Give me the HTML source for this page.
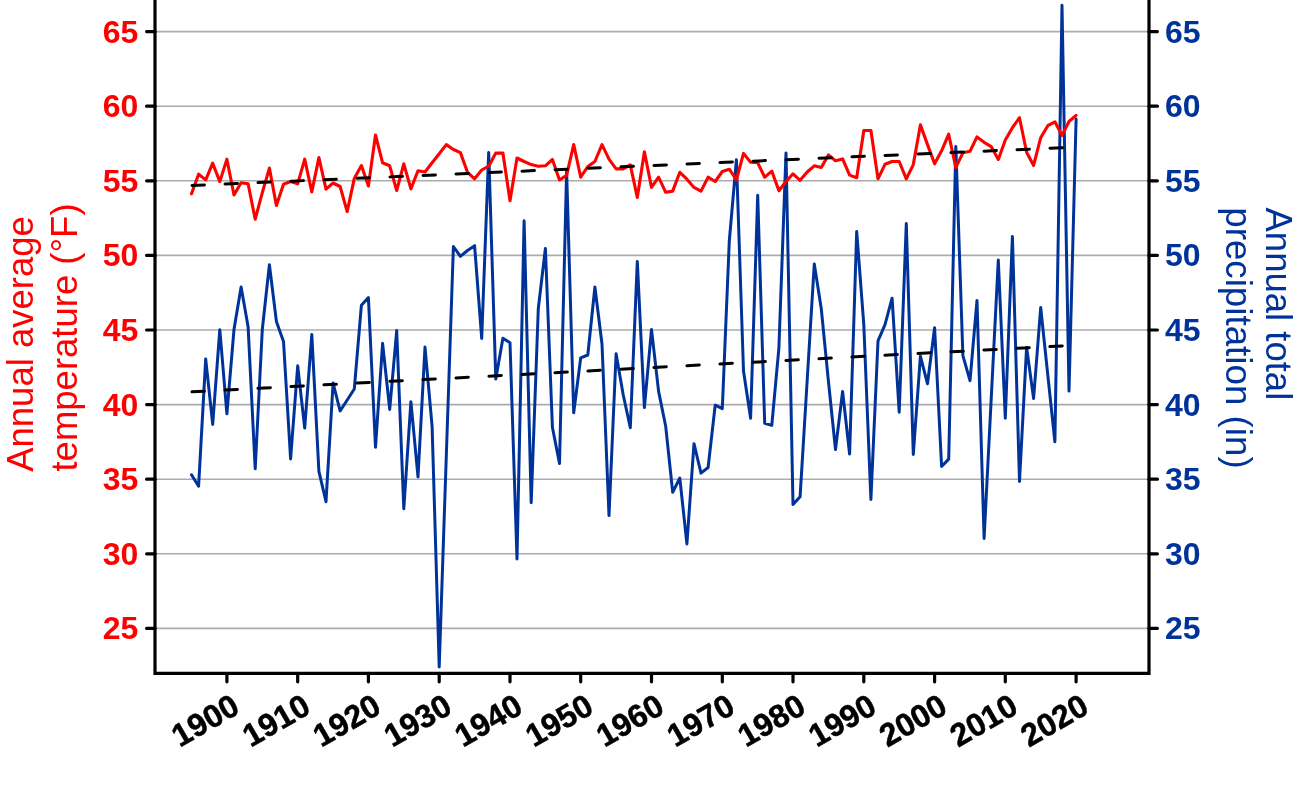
<!DOCTYPE html><html><head><meta charset="utf-8"><title>chart</title><style>html,body{margin:0;padding:0;background:#fff}svg{display:block}text{font-family:"Liberation Sans",sans-serif}</style></head><body>
<svg width="1300" height="787" viewBox="0 0 1300 787">
<rect width="1300" height="787" fill="#fff"/>
<line x1="155.0" x2="1149.0" y1="628.4" y2="628.4" stroke="#acacac" stroke-width="1.6"/>
<line x1="155.0" x2="1149.0" y1="553.8" y2="553.8" stroke="#acacac" stroke-width="1.6"/>
<line x1="155.0" x2="1149.0" y1="479.2" y2="479.2" stroke="#acacac" stroke-width="1.6"/>
<line x1="155.0" x2="1149.0" y1="404.6" y2="404.6" stroke="#acacac" stroke-width="1.6"/>
<line x1="155.0" x2="1149.0" y1="330.0" y2="330.0" stroke="#acacac" stroke-width="1.6"/>
<line x1="155.0" x2="1149.0" y1="255.4" y2="255.4" stroke="#acacac" stroke-width="1.6"/>
<line x1="155.0" x2="1149.0" y1="180.8" y2="180.8" stroke="#acacac" stroke-width="1.6"/>
<line x1="155.0" x2="1149.0" y1="106.2" y2="106.2" stroke="#acacac" stroke-width="1.6"/>
<line x1="155.0" x2="1149.0" y1="31.6" y2="31.6" stroke="#acacac" stroke-width="1.6"/>
<polyline points="191.5,474.8 198.6,486.2 205.7,359.1 212.7,424.4 219.8,329.7 226.9,413.8 234.0,329.5 241.1,286.9 248.1,326.7 255.2,468.8 262.3,329.5 269.4,264.7 276.4,321.4 283.5,341.5 290.6,458.9 297.7,365.8 304.7,428.1 311.8,334.6 318.9,471.4 326.0,501.7 333.1,383.1 340.1,411.0 347.2,400.0 354.3,389.0 361.4,305.2 368.4,297.5 375.5,447.3 382.6,343.3 389.7,409.4 396.7,330.6 403.8,508.8 410.9,401.7 418.0,476.9 425.0,347.1 432.1,426.3 439.2,667.0 446.3,456.0 453.4,246.5 460.4,256.4 467.5,250.5 474.6,245.7 481.7,338.4 488.7,152.4 495.8,379.1 502.9,338.2 510.0,342.8 517.0,559.0 524.1,220.7 531.2,502.7 538.3,308.5 545.4,248.4 552.4,427.3 559.5,463.5 566.6,171.0 573.7,412.7 580.7,357.8 587.8,355.0 594.9,287.0 602.0,344.0 609.0,515.6 616.1,353.7 623.2,394.8 630.3,427.7 637.3,261.6 644.4,407.6 651.5,329.4 658.6,391.4 665.7,426.3 672.7,492.3 679.8,478.0 686.9,543.9 694.0,443.7 701.0,473.1 708.1,467.5 715.2,405.2 722.3,408.6 729.3,241.0 736.4,159.8 743.5,371.0 750.6,418.3 757.7,195.2 764.7,423.3 771.8,425.4 778.9,347.8 786.0,152.9 793.0,504.6 800.1,496.7 807.2,380.0 814.3,263.9 821.3,309.0 828.4,381.0 835.5,449.5 842.6,391.5 849.6,454.0 856.7,231.5 863.8,324.7 870.9,499.5 878.0,340.9 885.0,324.7 892.1,298.2 899.2,412.2 906.3,223.6 913.3,454.5 920.4,356.2 927.5,383.8 934.6,327.8 941.6,466.5 948.7,459.1 955.8,146.5 962.9,355.7 970.0,380.7 977.0,300.5 984.1,538.4 991.2,399.0 998.3,260.0 1005.3,418.3 1012.4,236.4 1019.5,481.4 1026.6,347.4 1033.6,398.5 1040.7,307.5 1047.8,375.2 1054.9,441.8 1062.0,5.3 1069.0,391.1 1076.1,119.0" fill="none" stroke="#003399" stroke-width="3.0" stroke-linejoin="round" stroke-linecap="round"/>
<polyline points="191.5,193.8 198.6,174.2 205.7,179.9 212.7,163.2 219.8,181.6 226.9,159.2 234.0,195.0 241.1,182.7 248.1,183.8 255.2,219.3 262.3,192.7 269.4,168.1 276.4,205.5 283.5,184.2 290.6,181.5 297.7,183.8 304.7,159.2 311.8,191.9 318.9,157.6 326.0,189.2 333.1,183.0 340.1,186.5 347.2,211.6 354.3,178.4 361.4,165.5 368.4,186.1 375.5,135.0 382.6,162.8 389.7,165.8 396.7,190.5 403.8,163.8 410.9,188.9 418.0,170.8 425.0,172.0 432.1,162.8 439.2,153.8 446.3,144.6 453.4,149.5 460.4,152.6 467.5,172.3 474.6,178.8 481.7,170.0 488.7,166.2 495.8,153.1 502.9,153.1 510.0,200.8 517.0,158.0 524.1,161.5 531.2,164.6 538.3,166.2 545.4,165.8 552.4,159.5 559.5,180.0 566.6,175.4 573.7,144.6 580.7,177.2 587.8,166.5 594.9,161.5 602.0,144.6 609.0,159.2 616.1,168.9 623.2,168.9 630.3,164.9 637.3,197.4 644.4,151.8 651.5,187.4 658.6,177.2 665.7,192.3 672.7,191.1 679.8,172.3 686.9,179.2 694.0,187.4 701.0,191.1 708.1,177.2 715.2,181.5 722.3,171.5 729.3,169.2 736.4,180.0 743.5,153.4 750.6,162.3 757.7,162.8 764.7,177.2 771.8,171.1 778.9,190.8 786.0,181.5 793.0,173.8 800.1,180.3 807.2,172.0 814.3,165.8 821.3,167.4 828.4,154.9 835.5,160.8 842.6,158.9 849.6,175.1 856.7,177.7 863.8,130.5 870.9,130.5 878.0,178.8 885.0,164.3 892.1,161.5 899.2,161.5 906.3,178.9 913.3,164.6 920.4,124.9 927.5,144.6 934.6,163.8 941.6,150.8 948.7,134.2 955.8,167.7 962.9,152.8 970.0,151.2 977.0,136.9 984.1,142.3 991.2,146.6 998.3,159.5 1005.3,140.0 1012.4,127.7 1019.5,117.7 1026.6,152.3 1033.6,165.4 1040.7,137.7 1047.8,125.7 1054.9,121.8 1062.0,135.4 1069.0,121.5 1076.1,115.4" fill="none" stroke="#ff0000" stroke-width="3.1" stroke-linejoin="round" stroke-linecap="round"/>
<line x1="192" y1="185.45" x2="1062.4" y2="147.75" stroke="#000" stroke-width="3" stroke-dasharray="12.4 20.63" stroke-linecap="round"/>
<line x1="192" y1="391.8" x2="1062.4" y2="345.9" stroke="#000" stroke-width="3" stroke-dasharray="12.4 20.64" stroke-linecap="round"/>
<path d="M155.0,0 V673.4 H1149.0 V0" fill="none" stroke="#000" stroke-width="3.2" stroke-linejoin="miter"/>
<line x1="146.6" x2="155.0" y1="628.4" y2="628.4" stroke="#000" stroke-width="3.2" stroke-linecap="round"/>
<line x1="1149.0" x2="1157.4" y1="628.4" y2="628.4" stroke="#000" stroke-width="3.2" stroke-linecap="round"/>
<text x="138.3" y="639.4" text-anchor="end" font-size="32" font-weight="bold" fill="#ff0000">25</text>
<text x="1165" y="639.4" text-anchor="start" font-size="32" font-weight="bold" fill="#003399">25</text>
<line x1="146.6" x2="155.0" y1="553.8" y2="553.8" stroke="#000" stroke-width="3.2" stroke-linecap="round"/>
<line x1="1149.0" x2="1157.4" y1="553.8" y2="553.8" stroke="#000" stroke-width="3.2" stroke-linecap="round"/>
<text x="138.3" y="564.8" text-anchor="end" font-size="32" font-weight="bold" fill="#ff0000">30</text>
<text x="1165" y="564.8" text-anchor="start" font-size="32" font-weight="bold" fill="#003399">30</text>
<line x1="146.6" x2="155.0" y1="479.2" y2="479.2" stroke="#000" stroke-width="3.2" stroke-linecap="round"/>
<line x1="1149.0" x2="1157.4" y1="479.2" y2="479.2" stroke="#000" stroke-width="3.2" stroke-linecap="round"/>
<text x="138.3" y="490.2" text-anchor="end" font-size="32" font-weight="bold" fill="#ff0000">35</text>
<text x="1165" y="490.2" text-anchor="start" font-size="32" font-weight="bold" fill="#003399">35</text>
<line x1="146.6" x2="155.0" y1="404.6" y2="404.6" stroke="#000" stroke-width="3.2" stroke-linecap="round"/>
<line x1="1149.0" x2="1157.4" y1="404.6" y2="404.6" stroke="#000" stroke-width="3.2" stroke-linecap="round"/>
<text x="138.3" y="415.6" text-anchor="end" font-size="32" font-weight="bold" fill="#ff0000">40</text>
<text x="1165" y="415.6" text-anchor="start" font-size="32" font-weight="bold" fill="#003399">40</text>
<line x1="146.6" x2="155.0" y1="330.0" y2="330.0" stroke="#000" stroke-width="3.2" stroke-linecap="round"/>
<line x1="1149.0" x2="1157.4" y1="330.0" y2="330.0" stroke="#000" stroke-width="3.2" stroke-linecap="round"/>
<text x="138.3" y="341.0" text-anchor="end" font-size="32" font-weight="bold" fill="#ff0000">45</text>
<text x="1165" y="341.0" text-anchor="start" font-size="32" font-weight="bold" fill="#003399">45</text>
<line x1="146.6" x2="155.0" y1="255.4" y2="255.4" stroke="#000" stroke-width="3.2" stroke-linecap="round"/>
<line x1="1149.0" x2="1157.4" y1="255.4" y2="255.4" stroke="#000" stroke-width="3.2" stroke-linecap="round"/>
<text x="138.3" y="266.4" text-anchor="end" font-size="32" font-weight="bold" fill="#ff0000">50</text>
<text x="1165" y="266.4" text-anchor="start" font-size="32" font-weight="bold" fill="#003399">50</text>
<line x1="146.6" x2="155.0" y1="180.8" y2="180.8" stroke="#000" stroke-width="3.2" stroke-linecap="round"/>
<line x1="1149.0" x2="1157.4" y1="180.8" y2="180.8" stroke="#000" stroke-width="3.2" stroke-linecap="round"/>
<text x="138.3" y="191.8" text-anchor="end" font-size="32" font-weight="bold" fill="#ff0000">55</text>
<text x="1165" y="191.8" text-anchor="start" font-size="32" font-weight="bold" fill="#003399">55</text>
<line x1="146.6" x2="155.0" y1="106.2" y2="106.2" stroke="#000" stroke-width="3.2" stroke-linecap="round"/>
<line x1="1149.0" x2="1157.4" y1="106.2" y2="106.2" stroke="#000" stroke-width="3.2" stroke-linecap="round"/>
<text x="138.3" y="117.2" text-anchor="end" font-size="32" font-weight="bold" fill="#ff0000">60</text>
<text x="1165" y="117.2" text-anchor="start" font-size="32" font-weight="bold" fill="#003399">60</text>
<line x1="146.6" x2="155.0" y1="31.6" y2="31.6" stroke="#000" stroke-width="3.2" stroke-linecap="round"/>
<line x1="1149.0" x2="1157.4" y1="31.6" y2="31.6" stroke="#000" stroke-width="3.2" stroke-linecap="round"/>
<text x="138.3" y="42.6" text-anchor="end" font-size="32" font-weight="bold" fill="#ff0000">65</text>
<text x="1165" y="42.6" text-anchor="start" font-size="32" font-weight="bold" fill="#003399">65</text>
<line x1="226.9" x2="226.9" y1="673.4" y2="681.8" stroke="#000" stroke-width="3.2" stroke-linecap="round"/>
<text transform="translate(241.5,712.1) rotate(-30)" text-anchor="end" font-size="32" font-weight="bold" fill="#000" stroke="#000" stroke-width="0.5">1900</text>
<line x1="297.7" x2="297.7" y1="673.4" y2="681.8" stroke="#000" stroke-width="3.2" stroke-linecap="round"/>
<text transform="translate(312.3,712.1) rotate(-30)" text-anchor="end" font-size="32" font-weight="bold" fill="#000" stroke="#000" stroke-width="0.5">1910</text>
<line x1="368.4" x2="368.4" y1="673.4" y2="681.8" stroke="#000" stroke-width="3.2" stroke-linecap="round"/>
<text transform="translate(383.0,712.1) rotate(-30)" text-anchor="end" font-size="32" font-weight="bold" fill="#000" stroke="#000" stroke-width="0.5">1920</text>
<line x1="439.2" x2="439.2" y1="673.4" y2="681.8" stroke="#000" stroke-width="3.2" stroke-linecap="round"/>
<text transform="translate(453.8,712.1) rotate(-30)" text-anchor="end" font-size="32" font-weight="bold" fill="#000" stroke="#000" stroke-width="0.5">1930</text>
<line x1="510.0" x2="510.0" y1="673.4" y2="681.8" stroke="#000" stroke-width="3.2" stroke-linecap="round"/>
<text transform="translate(524.6,712.1) rotate(-30)" text-anchor="end" font-size="32" font-weight="bold" fill="#000" stroke="#000" stroke-width="0.5">1940</text>
<line x1="580.7" x2="580.7" y1="673.4" y2="681.8" stroke="#000" stroke-width="3.2" stroke-linecap="round"/>
<text transform="translate(595.3,712.1) rotate(-30)" text-anchor="end" font-size="32" font-weight="bold" fill="#000" stroke="#000" stroke-width="0.5">1950</text>
<line x1="651.5" x2="651.5" y1="673.4" y2="681.8" stroke="#000" stroke-width="3.2" stroke-linecap="round"/>
<text transform="translate(666.1,712.1) rotate(-30)" text-anchor="end" font-size="32" font-weight="bold" fill="#000" stroke="#000" stroke-width="0.5">1960</text>
<line x1="722.3" x2="722.3" y1="673.4" y2="681.8" stroke="#000" stroke-width="3.2" stroke-linecap="round"/>
<text transform="translate(736.9,712.1) rotate(-30)" text-anchor="end" font-size="32" font-weight="bold" fill="#000" stroke="#000" stroke-width="0.5">1970</text>
<line x1="793.0" x2="793.0" y1="673.4" y2="681.8" stroke="#000" stroke-width="3.2" stroke-linecap="round"/>
<text transform="translate(807.6,712.1) rotate(-30)" text-anchor="end" font-size="32" font-weight="bold" fill="#000" stroke="#000" stroke-width="0.5">1980</text>
<line x1="863.8" x2="863.8" y1="673.4" y2="681.8" stroke="#000" stroke-width="3.2" stroke-linecap="round"/>
<text transform="translate(878.4,712.1) rotate(-30)" text-anchor="end" font-size="32" font-weight="bold" fill="#000" stroke="#000" stroke-width="0.5">1990</text>
<line x1="934.6" x2="934.6" y1="673.4" y2="681.8" stroke="#000" stroke-width="3.2" stroke-linecap="round"/>
<text transform="translate(949.2,712.1) rotate(-30)" text-anchor="end" font-size="32" font-weight="bold" fill="#000" stroke="#000" stroke-width="0.5">2000</text>
<line x1="1005.3" x2="1005.3" y1="673.4" y2="681.8" stroke="#000" stroke-width="3.2" stroke-linecap="round"/>
<text transform="translate(1019.9,712.1) rotate(-30)" text-anchor="end" font-size="32" font-weight="bold" fill="#000" stroke="#000" stroke-width="0.5">2010</text>
<line x1="1076.1" x2="1076.1" y1="673.4" y2="681.8" stroke="#000" stroke-width="3.2" stroke-linecap="round"/>
<text transform="translate(1090.7,712.1) rotate(-30)" text-anchor="end" font-size="32" font-weight="bold" fill="#000" stroke="#000" stroke-width="0.5">2020</text>
<text transform="translate(33.4,344) rotate(-90)" text-anchor="middle" font-size="36.5" fill="#ff0000">Annual average</text>
<text transform="translate(77,337.5) rotate(-90)" text-anchor="middle" font-size="36.5" fill="#ff0000">temperature (°F)</text>
<text transform="translate(1266.3,207.5) rotate(90)" text-anchor="start" font-size="36.5" fill="#003399">Annual total</text>
<text transform="translate(1226,207.2) rotate(90)" text-anchor="start" font-size="36.75" fill="#003399">precipitation (in)</text>
</svg></body></html>
